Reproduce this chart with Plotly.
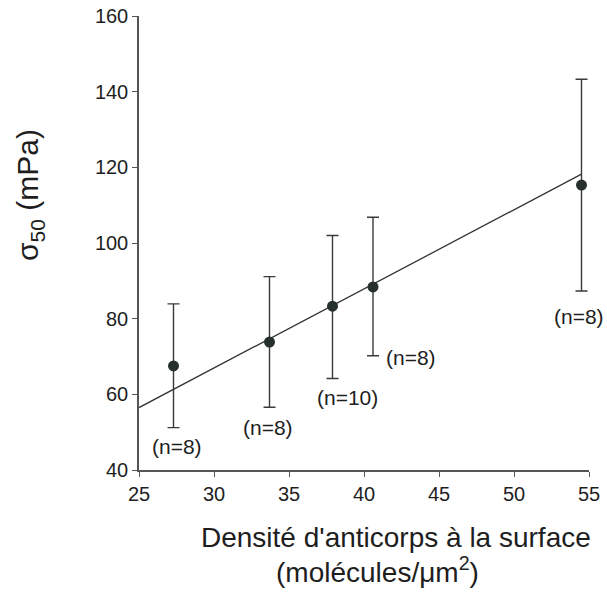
import plotly.graph_objects as go

# Data
density = [27.3, 33.7, 37.9, 40.6, 54.5]
sigma50 = [67.5, 73.8, 83.3, 88.4, 115.3]
err_upper = [83.9, 91.1, 102.0, 106.8, 143.3]
err_lower = [51.2, 56.6, 64.2, 70.2, 87.3]
n_values = [8, 8, 10, 8, 8]
fit_x = [25.0, 54.5]
fit_y = [56.5, 118.2]
x_ticks = [25, 30, 35, 40, 45, 50, 55]
y_ticks = [40, 60, 80, 100, 120, 140, 160]

# label placements (data coords)
label_x = [27.5, 33.6, 38.9, 43.1, 54.3]
label_y = [46.2, 51.2, 59.1, 69.7, 80.5]

FONT = "Liberation Sans, Arial, sans-serif"
TXT = "#1e1e1e"

fig = go.Figure()
fig.add_trace(go.Scatter(x=fit_x, y=fit_y, mode="lines",
                         line=dict(color="#333333", width=1.3),
                         hoverinfo="skip", showlegend=False))
fig.add_trace(go.Scatter(
    x=density, y=sigma50, mode="markers",
    marker=dict(size=11, color="#26302c", line=dict(width=0)),
    error_y=dict(type="data", symmetric=False,
                 array=[u - m for u, m in zip(err_upper, sigma50)],
                 arrayminus=[m - l for m, l in zip(sigma50, err_lower)],
                 color="#3a3a3a", thickness=1.4, width=6),
    showlegend=False))

for xx, yy, n in zip(label_x, label_y, n_values):
    fig.add_annotation(x=xx, y=yy, xref="x", yref="y", text=f"(n={n})",
                       xanchor="center", yanchor="middle",
                       showarrow=False, font=dict(family=FONT, size=21, color=TXT))

fig.add_annotation(x=-0.242, y=0.606, xref="paper", yref="paper",
                   xanchor="center", yanchor="middle",
                   text="σ<sub>50</sub> (mPa)", textangle=-90, showarrow=False,
                   font=dict(family=FONT, size=30, color=TXT))
fig.add_annotation(x=0.571, y=-0.148, xref="paper", yref="paper",
                   xanchor="center", yanchor="middle",
                   text="Densité d'anticorps à la surface", showarrow=False,
                   font=dict(family=FONT, size=28, color=TXT))
fig.add_annotation(x=0.531, y=-0.22, xref="paper", yref="paper",
                   xanchor="center", yanchor="middle",
                   text="(molécules/μm<sup>2</sup>)", showarrow=False,
                   font=dict(family=FONT, size=28, color=TXT))

axis_common = dict(showgrid=False, zeroline=False, showline=True,
                   linecolor="#555555", linewidth=1.5, ticks="outside",
                   ticklen=5, tickcolor="#555555", tickwidth=1.3,
                   automargin=False,
                   tickfont=dict(family=FONT, size=20, color=TXT))
fig.update_xaxes(range=[25, 55], tickvals=x_ticks, **axis_common)
fig.update_yaxes(range=[40, 160], tickvals=y_ticks, **axis_common)

fig.update_layout(width=607, height=593,
                  margin=dict(l=139, r=18, t=16, b=123),
                  paper_bgcolor="white", plot_bgcolor="white",
                  showlegend=False)
fig.write_html("out.html", config={"displayModeBar": False},
               post_script="document.body.style.margin='0px';"
                           "document.documentElement.style.margin='0px';")
